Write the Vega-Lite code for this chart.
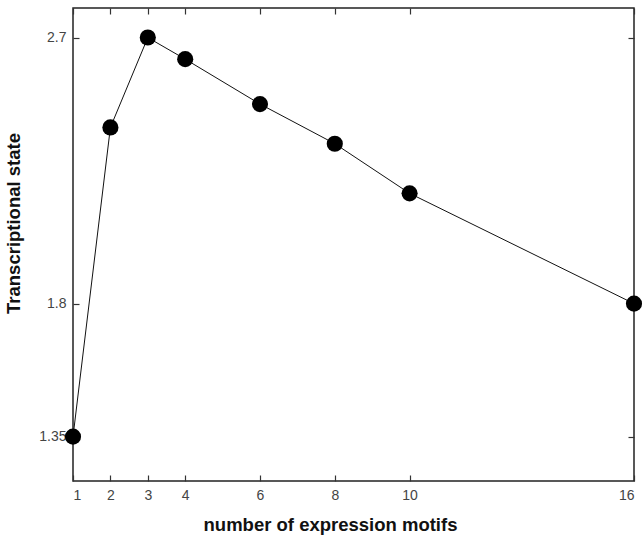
{
  "$schema": "https://vega.github.io/schema/vega-lite/v6.json",
  "autosize": "none",
  "width": 561,
  "height": 473,
  "padding": {"left": 73, "top": 8, "right": 10, "bottom": 56},
  "background": "white",
  "config": {
    "view": {"stroke": "#222", "strokeWidth": 1.5},
    "axis": {
      "grid": false,
      "domain": false,
      "tickSize": -6,
      "tickColor": "#333",
      "tickWidth": 1.2,
      "labelFont": "Liberation Sans",
      "labelFontSize": 14,
      "labelColor": "#444",
      "titleFont": "Liberation Sans",
      "titleFontSize": 18.5,
      "titleFontWeight": "bold",
      "titleColor": "#111"
    }
  },
  "data": {
    "values": [
      {"motifs": 1, "state": 1.35},
      {"motifs": 2, "state": 2.396},
      {"motifs": 3, "state": 2.70},
      {"motifs": 4, "state": 2.627},
      {"motifs": 6, "state": 2.475},
      {"motifs": 8, "state": 2.341},
      {"motifs": 10, "state": 2.173},
      {"motifs": 16, "state": 1.80}
    ]
  },
  "layer": [
    {
      "mark": {"type": "line", "color": "#111", "strokeWidth": 1},
      "encoding": {
        "x": {"field": "motifs", "type": "quantitative", "scale": {"domain": [1, 16], "nice": false, "zero": false},
          "axis": {"values": [1, 2, 3, 4, 6, 8, 10, 16], "title": "number of expression motifs", "labelPadding": 13, "titleX": 257, "titleY": 34, "orient": "bottom"}},
        "y": {"field": "state", "type": "quantitative", "scale": {"domain": [1.2, 2.8], "nice": false, "zero": false},
          "axis": {"values": [1.35, 1.8, 2.7], "format": ".3~g", "title": "Transcriptional state", "labelPadding": 13, "titleX": -50, "titleY": 215, "orient": "left"}}
      }
    },
    {
      "mark": {"type": "circle", "color": "#000", "opacity": 1, "size": 260},
      "encoding": {
        "x": {"field": "motifs", "type": "quantitative",
          "axis": {"values": [1, 2, 3, 4, 6, 8, 10, 16], "labels": false, "title": null, "orient": "top"}},
        "y": {"field": "state", "type": "quantitative",
          "axis": {"values": [1.35, 1.8, 2.7], "labels": false, "title": null, "orient": "right"}}
      }
    }
  ],
  "resolve": {"axis": {"x": "independent", "y": "independent"}}
}
